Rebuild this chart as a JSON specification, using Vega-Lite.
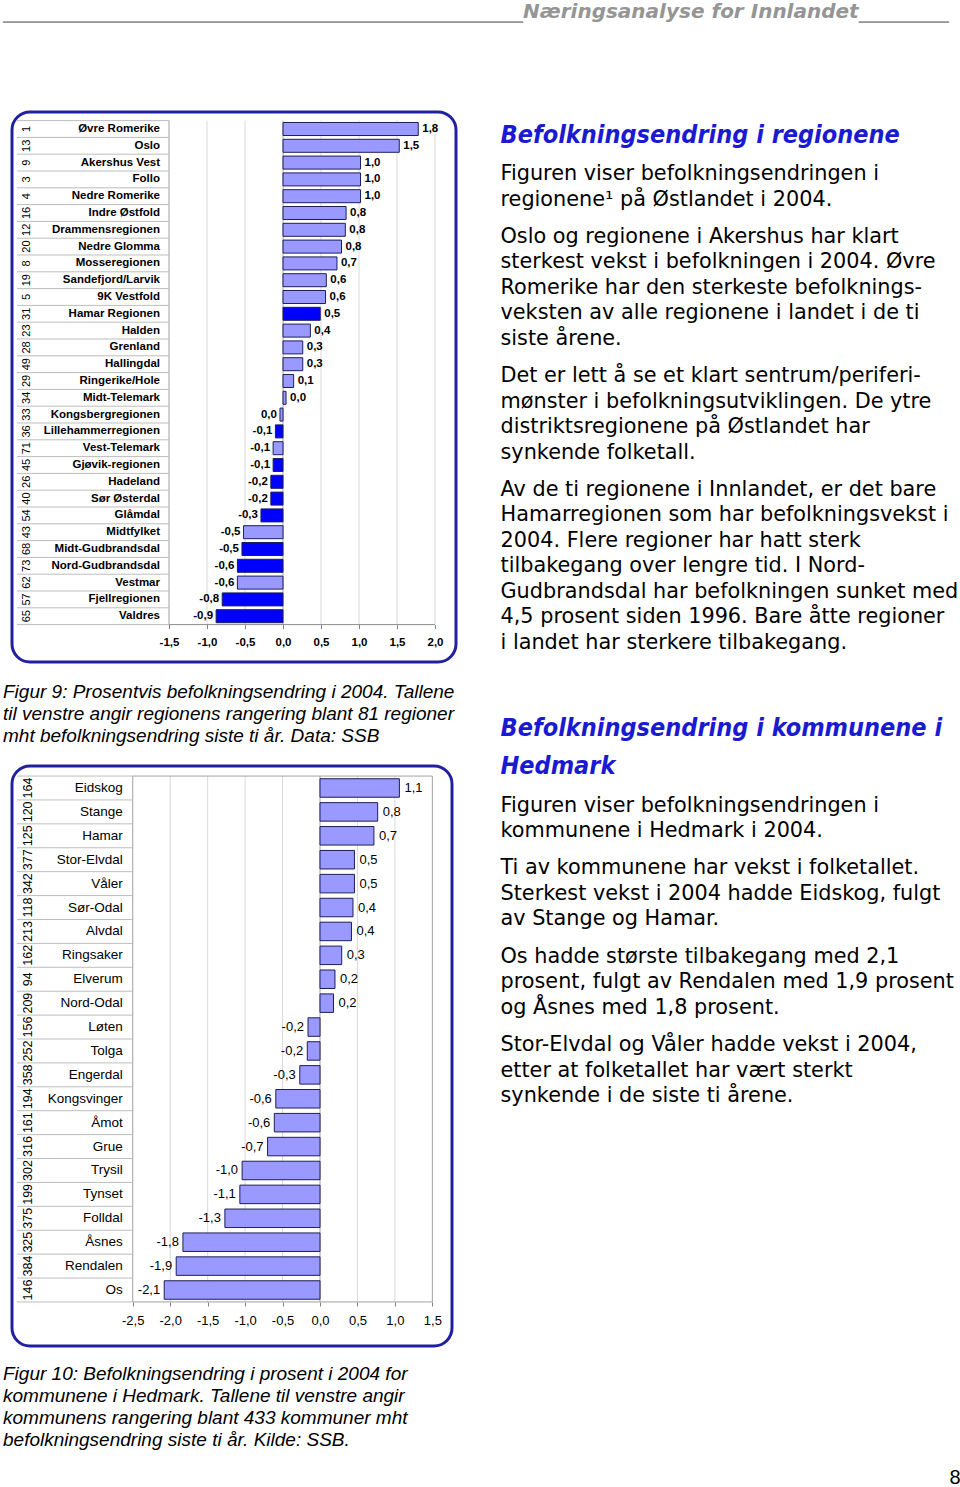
{
  "$schema": "https://vega.github.io/schema/vega-lite/v6.json",
  "padding": {"left": 3, "top": 2, "right": 0, "bottom": 4},
  "background": "white",
  "config": {
    "font": "Liberation Sans",
    "view": {"stroke": null},
    "locale": {"number": {"decimal": ",", "thousands": " ", "grouping": [3], "currency": ["", " kr"], "minus": "-"}}
  },
  "title": {
    "text": "____________________________________________________Næringsanalyse for Innlandet_________",
    "anchor": "start", "frame": "bounds", "font": "DejaVu Sans", "fontSize": 20,
    "fontStyle": "italic", "fontWeight": "bold", "color": "#959595", "offset": 88.5
  },
  "datasets": {
    "regioner": [
      {"i": 1, "rang": 1, "navn": "Øvre Romerike", "v": 1.78, "inn": "nei"},
      {"i": 2, "rang": 13, "navn": "Oslo", "v": 1.53, "inn": "nei"},
      {"i": 3, "rang": 9, "navn": "Akershus Vest", "v": 1.02, "inn": "nei"},
      {"i": 4, "rang": 3, "navn": "Follo", "v": 1.02, "inn": "nei"},
      {"i": 5, "rang": 4, "navn": "Nedre Romerike", "v": 1.02, "inn": "nei"},
      {"i": 6, "rang": 16, "navn": "Indre Østfold", "v": 0.83, "inn": "nei"},
      {"i": 7, "rang": 12, "navn": "Drammensregionen", "v": 0.82, "inn": "nei"},
      {"i": 8, "rang": 20, "navn": "Nedre Glomma", "v": 0.77, "inn": "nei"},
      {"i": 9, "rang": 8, "navn": "Mosseregionen", "v": 0.71, "inn": "nei"},
      {"i": 10, "rang": 19, "navn": "Sandefjord/Larvik", "v": 0.57, "inn": "nei"},
      {"i": 11, "rang": 5, "navn": "9K Vestfold", "v": 0.56, "inn": "nei"},
      {"i": 12, "rang": 31, "navn": "Hamar Regionen", "v": 0.49, "inn": "ja"},
      {"i": 13, "rang": 23, "navn": "Halden", "v": 0.36, "inn": "nei"},
      {"i": 14, "rang": 28, "navn": "Grenland", "v": 0.26, "inn": "nei"},
      {"i": 15, "rang": 49, "navn": "Hallingdal", "v": 0.26, "inn": "nei"},
      {"i": 16, "rang": 29, "navn": "Ringerike/Hole", "v": 0.14, "inn": "nei"},
      {"i": 17, "rang": 34, "navn": "Midt-Telemark", "v": 0.04, "inn": "nei"},
      {"i": 18, "rang": 33, "navn": "Kongsbergregionen", "v": -0.04, "inn": "nei"},
      {"i": 19, "rang": 36, "navn": "Lillehammerregionen", "v": -0.1, "inn": "ja"},
      {"i": 20, "rang": 71, "navn": "Vest-Telemark", "v": -0.13, "inn": "nei"},
      {"i": 21, "rang": 45, "navn": "Gjøvik-regionen", "v": -0.13, "inn": "ja"},
      {"i": 22, "rang": 26, "navn": "Hadeland", "v": -0.16, "inn": "ja"},
      {"i": 23, "rang": 40, "navn": "Sør Østerdal", "v": -0.16, "inn": "ja"},
      {"i": 24, "rang": 54, "navn": "Glåmdal", "v": -0.29, "inn": "ja"},
      {"i": 25, "rang": 43, "navn": "Midtfylket", "v": -0.52, "inn": "nei"},
      {"i": 26, "rang": 68, "navn": "Midt-Gudbrandsdal", "v": -0.54, "inn": "ja"},
      {"i": 27, "rang": 73, "navn": "Nord-Gudbrandsdal", "v": -0.6, "inn": "ja"},
      {"i": 28, "rang": 62, "navn": "Vestmar", "v": -0.6, "inn": "nei"},
      {"i": 29, "rang": 57, "navn": "Fjellregionen", "v": -0.8, "inn": "ja"},
      {"i": 30, "rang": 65, "navn": "Valdres", "v": -0.88, "inn": "ja"}
    ],
    "kommuner": [
      {"i": 1, "rang": 164, "navn": "Eidskog", "v": 1.06},
      {"i": 2, "rang": 120, "navn": "Stange", "v": 0.77},
      {"i": 3, "rang": 125, "navn": "Hamar", "v": 0.72},
      {"i": 4, "rang": 377, "navn": "Stor-Elvdal", "v": 0.46},
      {"i": 5, "rang": 342, "navn": "Våler", "v": 0.46},
      {"i": 6, "rang": 118, "navn": "Sør-Odal", "v": 0.44},
      {"i": 7, "rang": 213, "navn": "Alvdal", "v": 0.42},
      {"i": 8, "rang": 162, "navn": "Ringsaker", "v": 0.29},
      {"i": 9, "rang": 94, "navn": "Elverum", "v": 0.2},
      {"i": 10, "rang": 209, "navn": "Nord-Odal", "v": 0.18},
      {"i": 11, "rang": 156, "navn": "Løten", "v": -0.16},
      {"i": 12, "rang": 252, "navn": "Tolga", "v": -0.17},
      {"i": 13, "rang": 358, "navn": "Engerdal", "v": -0.27},
      {"i": 14, "rang": 194, "navn": "Kongsvinger", "v": -0.59},
      {"i": 15, "rang": 161, "navn": "Åmot", "v": -0.61},
      {"i": 16, "rang": 316, "navn": "Grue", "v": -0.7},
      {"i": 17, "rang": 302, "navn": "Trysil", "v": -1.04},
      {"i": 18, "rang": 199, "navn": "Tynset", "v": -1.07},
      {"i": 19, "rang": 375, "navn": "Folldal", "v": -1.27},
      {"i": 20, "rang": 325, "navn": "Åsnes", "v": -1.83},
      {"i": 21, "rang": 384, "navn": "Rendalen", "v": -1.92},
      {"i": 22, "rang": 146, "navn": "Os", "v": -2.08}
    ]
  },
  "spacing": 42.5,
  "hconcat": [
    {
      "bounds": "flush",
      "spacing": 19,
      "vconcat": [
        {
          "width": 444, "height": 550,
          "view": {"stroke": "#2020a0", "strokeWidth": 3, "cornerRadius": 18, "fill": "white"},
          "data": {"name": "regioner"},
          "layer": [
            {
              "data": {"values": [{"t": -1.0}, {"t": -0.5}, {"t": 0.5}, {"t": 1.0}, {"t": 1.5}, {"t": 2.0}]},
              "mark": {"type": "rule", "color": "#d9d9d9", "strokeWidth": 1},
              "encoding": {
                "x": {"field": "t", "type": "quantitative",
                  "scale": {"domain": [-3.5658, 2.2763], "nice": false, "zero": false, "padding": 0},
                  "axis": {"values": [-1.5, -1, -0.5, 0, 0.5, 1, 1.5, 2], "format": ".1f", "orient": "bottom", "offset": -37.4, "title": null, "domain": false, "grid": false, "ticks": true, "tickSize": 4, "tickColor": "#808080", "labelFontSize": 11.5, "labelFontWeight": "bold", "labelColor": "black", "labelPadding": 8, "labelOverlap": false, "labelFlush": false}},
                "y": {"datum": 0.5, "scale": {"domain": [-0.0119, 32.7262], "nice": false, "zero": false, "reverse": true, "padding": 0}, "axis": null},
                "y2": {"datum": 30.5}
              }
            },
            {
              "data": {"values": [{}]},
              "mark": {"type": "rule", "color": "#a0a0a0", "strokeWidth": 1},
              "encoding": {"x": {"datum": -1.5}, "y": {"datum": 0.5, "axis": null}, "y2": {"datum": 30.5}}
            },
            {
              "data": {"values": [{}]},
              "mark": {"type": "rule", "color": "#a8a8a8", "strokeWidth": 1},
              "encoding": {"x": {"datum": 0}, "y": {"datum": 0.5, "axis": null}, "y2": {"datum": 30.5}}
            },
            {
              "data": {"values": [{}]},
              "mark": {"type": "rule", "color": "#8c8c8c", "strokeWidth": 1},
              "encoding": {"x": {"datum": -1.5}, "x2": {"datum": 2.0}, "y": {"datum": 30.5, "axis": null}}
            },
            {
              "data": {"values": [{}]},
              "mark": {"type": "rule", "color": "#bdbdbd", "strokeWidth": 1},
              "encoding": {"x": {"datum": -3.5}, "x2": {"datum": -1.5}, "y": {"datum": 0.5, "axis": null}}
            },
            {
              "mark": {"type": "rule", "color": "#bdbdbd", "strokeWidth": 1, "yOffset": 8.4},
              "encoding": {"x": {"datum": -3.5}, "x2": {"datum": -1.5}, "y": {"field": "i", "type": "quantitative", "axis": null}}
            },
            {
              "mark": {"type": "bar", "orient": "horizontal", "size": 13, "stroke": "#1e1e5a", "strokeWidth": 1},
              "encoding": {
                "x": {"field": "v", "type": "quantitative"},
                "y": {"field": "i", "type": "quantitative", "axis": null},
                "color": {"field": "inn", "type": "nominal", "scale": {"domain": ["ja", "nei"], "range": ["#0000ff", "#9999ff"]}, "legend": null}
              }
            },
            {
              "transform": [{"filter": "datum.v >= 0"}],
              "mark": {"type": "text", "align": "left", "baseline": "middle", "dx": 4, "fontSize": 11.5, "fontWeight": "bold", "color": "black"},
              "encoding": {
                "x": {"field": "v", "type": "quantitative"},
                "y": {"field": "i", "type": "quantitative", "axis": null},
                "text": {"field": "v", "type": "quantitative", "format": ".1f"}
              }
            },
            {
              "transform": [{"filter": "datum.v < 0"}],
              "mark": {"type": "text", "align": "right", "baseline": "middle", "dx": -3, "fontSize": 11.5, "fontWeight": "bold", "color": "black"},
              "encoding": {
                "x": {"field": "v", "type": "quantitative"},
                "y": {"field": "i", "type": "quantitative", "axis": null},
                "text": {"field": "v", "type": "quantitative", "format": ".1f"}
              }
            },
            {
              "mark": {"type": "text", "align": "right", "baseline": "middle", "dx": -9, "fontSize": 11.5, "fontWeight": "bold", "color": "black"},
              "encoding": {
                "x": {"datum": -1.5},
                "y": {"field": "i", "type": "quantitative", "axis": null},
                "text": {"field": "navn", "type": "nominal"}
              }
            },
            {
              "mark": {"type": "text", "align": "center", "baseline": "middle", "angle": 270, "fontSize": 11, "color": "black"},
              "encoding": {
                "x": {"datum": -3.368},
                "y": {"field": "i", "type": "quantitative", "axis": null},
                "text": {"field": "rang", "type": "nominal"}
              }
            }
          ]
        },
        {
          "width": 444, "height": 66,
          "data": {"values": [
            {"t": "Figur 9: Prosentvis befolkningsendring i 2004. Tallene"},
            {"t": "til venstre angir regionens rangering blant 81 regioner"},
            {"t": "mht befolkningsendring siste ti år. Data:  SSB"}
          ]},
          "mark": {"type": "text", "align": "left", "baseline": "middle", "dx": -9, "fontSize": 19, "fontStyle": "italic", "color": "black"},
          "encoding": {
            "x": {"datum": 0, "type": "quantitative", "scale": {"domain": [0, 1]}, "axis": null},
            "y": {"field": "t", "type": "nominal", "sort": null, "scale": {"type": "point", "padding": 0.5}, "axis": null},
            "text": {"field": "t", "type": "nominal"}
          }
        },
        {
          "width": 440, "height": 580,
          "view": {"stroke": "#2020a0", "strokeWidth": 3, "cornerRadius": 18, "fill": "white"},
          "data": {"name": "kommuner"},
          "layer": [
            {
              "data": {"values": [{"t": -2.0}, {"t": -1.5}, {"t": -1.0}, {"t": -0.5}, {"t": 0.5}, {"t": 1.0}]},
              "mark": {"type": "rule", "color": "#d9d9d9", "strokeWidth": 1},
              "encoding": {
                "x": {"field": "t", "type": "quantitative",
                  "scale": {"domain": [-4.1121, 1.7623], "nice": false, "zero": false, "padding": 0},
                  "axis": {"values": [-2.5, -2, -1.5, -1, -0.5, 0, 0.5, 1, 1.5], "format": ".1f", "orient": "bottom", "offset": -44.04, "title": null, "domain": false, "grid": false, "ticks": true, "tickSize": 4, "tickColor": "#808080", "labelFontSize": 13, "labelColor": "black", "labelPadding": 8.4, "labelOverlap": false, "labelFlush": false}},
                "y": {"datum": 0.5, "scale": {"domain": [0.0797, 24.3424], "nice": false, "zero": false, "reverse": true, "padding": 0}, "axis": null},
                "y2": {"datum": 22.5}
              }
            },
            {
              "data": {"values": [{"t": -2.5}, {"t": 0}, {"t": 1.5}]},
              "mark": {"type": "rule", "color": "#a0a0a0", "strokeWidth": 1},
              "encoding": {"x": {"field": "t", "type": "quantitative"}, "y": {"datum": 0.5, "axis": null}, "y2": {"datum": 22.5}}
            },
            {
              "data": {"values": [{"r": 0.5}, {"r": 22.5}]},
              "mark": {"type": "rule", "color": "#a0a0a0", "strokeWidth": 1},
              "encoding": {"x": {"datum": -2.5}, "x2": {"datum": 1.5}, "y": {"field": "r", "type": "quantitative", "axis": null}}
            },
            {
              "data": {"values": [{}]},
              "mark": {"type": "rule", "color": "#bdbdbd", "strokeWidth": 1},
              "encoding": {"x": {"datum": -4.045}, "x2": {"datum": -2.5}, "y": {"datum": 0.5, "axis": null}}
            },
            {
              "mark": {"type": "rule", "color": "#bdbdbd", "strokeWidth": 1, "yOffset": 11.95},
              "encoding": {"x": {"datum": -4.045}, "x2": {"datum": -2.5}, "y": {"field": "i", "type": "quantitative", "axis": null}}
            },
            {
              "mark": {"type": "bar", "orient": "horizontal", "size": 18.5, "fill": "#9999ff", "stroke": "#1e1e5a", "strokeWidth": 1},
              "encoding": {
                "x": {"field": "v", "type": "quantitative"},
                "y": {"field": "i", "type": "quantitative", "axis": null}
              }
            },
            {
              "transform": [{"filter": "datum.v >= 0"}],
              "mark": {"type": "text", "align": "left", "baseline": "middle", "dx": 5, "fontSize": 13, "color": "black"},
              "encoding": {
                "x": {"field": "v", "type": "quantitative"},
                "y": {"field": "i", "type": "quantitative", "axis": null},
                "text": {"field": "v", "type": "quantitative", "format": ".1f"}
              }
            },
            {
              "transform": [{"filter": "datum.v < 0"}],
              "mark": {"type": "text", "align": "right", "baseline": "middle", "dx": -4, "fontSize": 13, "color": "black"},
              "encoding": {
                "x": {"field": "v", "type": "quantitative"},
                "y": {"field": "i", "type": "quantitative", "axis": null},
                "text": {"field": "v", "type": "quantitative", "format": ".1f"}
              }
            },
            {
              "mark": {"type": "text", "align": "right", "baseline": "middle", "dx": -10, "fontSize": 13.5, "color": "black"},
              "encoding": {
                "x": {"datum": -2.5},
                "y": {"field": "i", "type": "quantitative", "axis": null},
                "text": {"field": "navn", "type": "nominal"}
              }
            },
            {
              "mark": {"type": "text", "align": "center", "baseline": "middle", "angle": 270, "fontSize": 12.5, "color": "black"},
              "encoding": {
                "x": {"datum": -3.894},
                "y": {"field": "i", "type": "quantitative", "axis": null},
                "text": {"field": "rang", "type": "nominal"}
              }
            }
          ]
        },
        {
          "width": 444, "height": 88,
          "data": {"values": [
            {"t": "Figur 10: Befolkningsendring i prosent i 2004 for"},
            {"t": "kommunene i Hedmark.  Tallene til venstre angir"},
            {"t": "kommunens rangering blant 433 kommuner mht"},
            {"t": "befolkningsendring siste ti år.  Kilde: SSB."}
          ]},
          "mark": {"type": "text", "align": "left", "baseline": "middle", "dx": -9, "fontSize": 19, "fontStyle": "italic", "color": "black"},
          "encoding": {
            "x": {"datum": 0, "type": "quantitative", "scale": {"domain": [0, 1]}, "axis": null},
            "y": {"field": "t", "type": "nominal", "sort": null, "scale": {"type": "point", "padding": 0.5, "align": 0.41}, "axis": null},
            "text": {"field": "t", "type": "nominal"}
          }
        }
      ]
    },
    {
      "bounds": "flush",
      "spacing": 11.5,
      "vconcat": [
        {
          "width": 460, "height": 37.75,
          "data": {"values": [{"t": "Befolkningsendring i regionene"}]},
          "mark": {"type": "text", "align": "left", "baseline": "middle", "font": "DejaVu Sans Condensed, DejaVu Sans", "fontSize": 25, "fontStyle": "italic", "fontWeight": "bold", "color": "#1a1ad2"},
          "encoding": {
            "x": {"datum": 0, "type": "quantitative", "scale": {"domain": [0, 1]}, "axis": null},
            "y": {"field": "t", "type": "nominal", "sort": null, "scale": {"type": "point", "padding": 0.5, "align": 0.609}, "axis": null},
            "text": {"field": "t", "type": "nominal"}
          }
        },
        {
          "width": 460, "height": 51,
          "data": {"values": [
            {"t": "Figuren viser befolkningsendringen i"},
            {"t": "regionene¹ på Østlandet i 2004."}
          ]},
          "mark": {"type": "text", "align": "left", "baseline": "middle", "font": "DejaVu Sans", "fontSize": 20.8, "color": "black"},
          "encoding": {
            "x": {"datum": 0, "type": "quantitative", "scale": {"domain": [0, 1]}, "axis": null},
            "y": {"field": "t", "type": "nominal", "sort": null, "scale": {"type": "point", "padding": 0.5}, "axis": null},
            "text": {"field": "t", "type": "nominal"}
          }
        },
        {
          "width": 460, "height": 127.5,
          "data": {"values": [
            {"t": "Oslo og regionene i Akershus har klart"},
            {"t": "sterkest vekst i befolkningen i 2004. Øvre"},
            {"t": "Romerike har den sterkeste befolknings-"},
            {"t": "veksten av alle regionene i landet i de ti"},
            {"t": "siste årene."}
          ]},
          "mark": {"type": "text", "align": "left", "baseline": "middle", "font": "DejaVu Sans", "fontSize": 20.8, "color": "black"},
          "encoding": {
            "x": {"datum": 0, "type": "quantitative", "scale": {"domain": [0, 1]}, "axis": null},
            "y": {"field": "t", "type": "nominal", "sort": null, "scale": {"type": "point", "padding": 0.5}, "axis": null},
            "text": {"field": "t", "type": "nominal"}
          }
        },
        {
          "width": 460, "height": 102,
          "data": {"values": [
            {"t": "Det er lett å se et klart sentrum/periferi-"},
            {"t": "mønster i befolkningsutviklingen.  De ytre"},
            {"t": "distriktsregionene på Østlandet har"},
            {"t": "synkende folketall."}
          ]},
          "mark": {"type": "text", "align": "left", "baseline": "middle", "font": "DejaVu Sans", "fontSize": 20.8, "color": "black"},
          "encoding": {
            "x": {"datum": 0, "type": "quantitative", "scale": {"domain": [0, 1]}, "axis": null},
            "y": {"field": "t", "type": "nominal", "sort": null, "scale": {"type": "point", "padding": 0.5}, "axis": null},
            "text": {"field": "t", "type": "nominal"}
          }
        },
        {
          "width": 460, "height": 178.5,
          "data": {"values": [
            {"t": "Av de ti regionene i Innlandet, er det bare"},
            {"t": "Hamarregionen som har befolkningsvekst i"},
            {"t": "2004.  Flere regioner har hatt sterk"},
            {"t": "tilbakegang over lengre tid.  I Nord-"},
            {"t": "Gudbrandsdal har befolkningen sunket med"},
            {"t": "4,5 prosent siden 1996.  Bare åtte regioner"},
            {"t": "i landet har sterkere tilbakegang."}
          ]},
          "mark": {"type": "text", "align": "left", "baseline": "middle", "font": "DejaVu Sans", "fontSize": 20.8, "color": "black"},
          "encoding": {
            "x": {"datum": 0, "type": "quantitative", "scale": {"domain": [0, 1]}, "axis": null},
            "y": {"field": "t", "type": "nominal", "sort": null, "scale": {"type": "point", "padding": 0.5}, "axis": null},
            "text": {"field": "t", "type": "nominal"}
          }
        },
        {
          "width": 460, "height": 113.5,
          "data": {"values": [
            {"t": "Befolkningsendring i kommunene i"},
            {"t": "Hedmark"}
          ]},
          "mark": {"type": "text", "align": "left", "baseline": "middle", "font": "DejaVu Sans Condensed, DejaVu Sans", "fontSize": 25, "fontStyle": "italic", "fontWeight": "bold", "color": "#1a1ad2"},
          "encoding": {
            "x": {"datum": 0, "type": "quantitative", "scale": {"domain": [0, 1]}, "axis": null},
            "y": {"field": "t", "type": "nominal", "sort": null, "scale": {"type": "point", "padding": 1.273, "align": 0.8}, "axis": null},
            "text": {"field": "t", "type": "nominal"}
          }
        },
        {
          "width": 460, "height": 51,
          "data": {"values": [
            {"t": "Figuren viser befolkningsendringen i"},
            {"t": "kommunene i Hedmark i 2004."}
          ]},
          "mark": {"type": "text", "align": "left", "baseline": "middle", "font": "DejaVu Sans", "fontSize": 20.8, "color": "black"},
          "encoding": {
            "x": {"datum": 0, "type": "quantitative", "scale": {"domain": [0, 1]}, "axis": null},
            "y": {"field": "t", "type": "nominal", "sort": null, "scale": {"type": "point", "padding": 0.5}, "axis": null},
            "text": {"field": "t", "type": "nominal"}
          }
        },
        {
          "width": 460, "height": 76.5,
          "data": {"values": [
            {"t": "Ti av kommunene har vekst i folketallet."},
            {"t": "Sterkest vekst i 2004 hadde Eidskog, fulgt"},
            {"t": "av Stange og Hamar."}
          ]},
          "mark": {"type": "text", "align": "left", "baseline": "middle", "font": "DejaVu Sans", "fontSize": 20.8, "color": "black"},
          "encoding": {
            "x": {"datum": 0, "type": "quantitative", "scale": {"domain": [0, 1]}, "axis": null},
            "y": {"field": "t", "type": "nominal", "sort": null, "scale": {"type": "point", "padding": 0.5}, "axis": null},
            "text": {"field": "t", "type": "nominal"}
          }
        },
        {
          "width": 460, "height": 76.5,
          "data": {"values": [
            {"t": "Os hadde største tilbakegang med 2,1"},
            {"t": "prosent, fulgt av Rendalen med 1,9 prosent"},
            {"t": "og Åsnes med 1,8 prosent."}
          ]},
          "mark": {"type": "text", "align": "left", "baseline": "middle", "font": "DejaVu Sans", "fontSize": 20.8, "color": "black"},
          "encoding": {
            "x": {"datum": 0, "type": "quantitative", "scale": {"domain": [0, 1]}, "axis": null},
            "y": {"field": "t", "type": "nominal", "sort": null, "scale": {"type": "point", "padding": 0.5}, "axis": null},
            "text": {"field": "t", "type": "nominal"}
          }
        },
        {
          "width": 460, "height": 76.5,
          "data": {"values": [
            {"t": "Stor-Elvdal og Våler hadde vekst i 2004,"},
            {"t": "etter at folketallet har vært sterkt"},
            {"t": "synkende i de siste ti årene."}
          ]},
          "mark": {"type": "text", "align": "left", "baseline": "middle", "font": "DejaVu Sans", "fontSize": 20.8, "color": "black"},
          "encoding": {
            "x": {"datum": 0, "type": "quantitative", "scale": {"domain": [0, 1]}, "axis": null},
            "y": {"field": "t", "type": "nominal", "sort": null, "scale": {"type": "point", "padding": 0.5}, "axis": null},
            "text": {"field": "t", "type": "nominal"}
          }
        },
        {
          "width": 460, "height": 360,
          "data": {"values": [{"t": "8"}]},
          "mark": {"type": "text", "align": "right", "baseline": "middle", "fontSize": 20, "color": "black"},
          "encoding": {
            "x": {"datum": 1, "type": "quantitative", "scale": {"domain": [0, 1]}, "axis": null},
            "y": {"field": "t", "type": "nominal", "sort": null, "scale": {"type": "point", "padding": 0.5, "align": 0.992}, "axis": null},
            "text": {"field": "t", "type": "nominal"}
          }
        }
      ]
    }
  ]
}
